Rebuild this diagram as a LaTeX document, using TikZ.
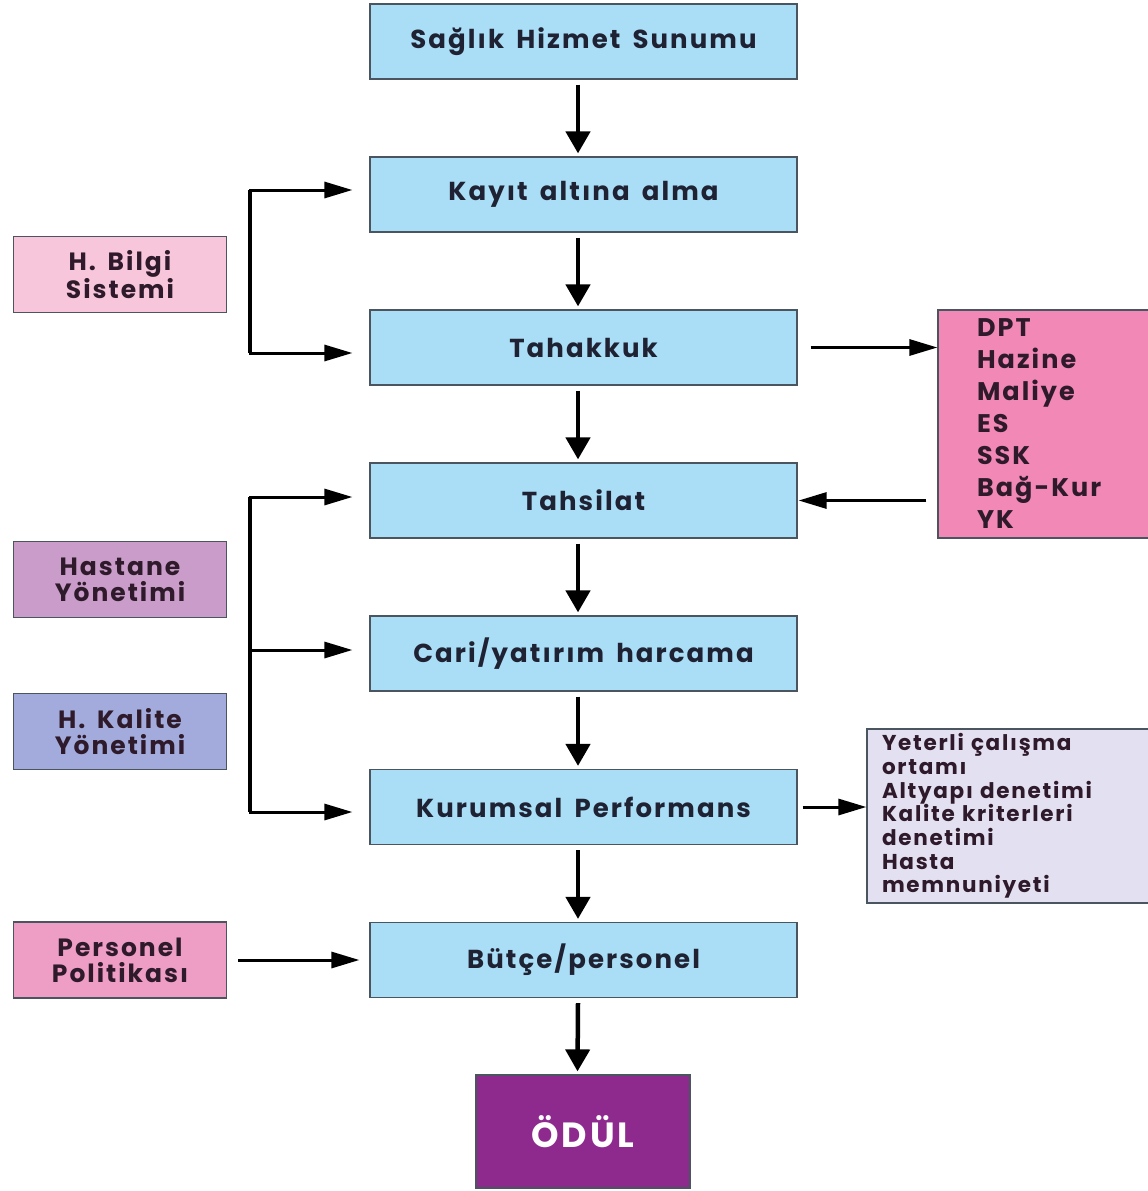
\documentclass[tikz,border=0pt]{standalone}
\usepackage{fontspec}
\setmainfont{Poppins}[LetterSpace=8, WordSpace=1.6]
\usetikzlibrary{arrows.meta,calc}
\definecolor{mainblue}{HTML}{AADDF6}
\definecolor{edge}{HTML}{4A5560}
\definecolor{txt}{HTML}{1F2233}
\definecolor{sidetxt}{HTML}{2E1A2A}
\definecolor{bilgi}{HTML}{F8C6DB}
\definecolor{hastane}{HTML}{C99CC9}
\definecolor{kalite}{HTML}{A2ABDB}
\definecolor{personel}{HTML}{EE9DC5}
\definecolor{dpt}{HTML}{F288B6}
\definecolor{yeter}{HTML}{E3E1F1}
\definecolor{odul}{HTML}{8E2A8D}
\tikzset{feedtip/.tip={Triangle[length=28pt,width=16pt]}}
\begin{document}
\begin{tikzpicture}[x=1pt,y=-1pt,
  mainbox/.style={draw=edge, line width=1.2pt, fill=mainblue, minimum width=427pt, minimum height=75pt, inner sep=0pt, text=txt, font=\fontsize{26}{28}\selectfont\bfseries},
  sidebox/.style={draw=edge, line width=1.2pt, minimum width=213pt, minimum height=76pt, inner sep=0pt, align=center, text=sidetxt, font=\fontsize{25}{26}\selectfont\bfseries},
  flow/.style={line width=4.5pt, -{Triangle[length=22pt,width=24pt]}},
  feed/.style={line width=3pt, -{feedtip}}]
\useasboundingbox (0,0) rectangle (1148,1191);
% main column
\node[mainbox] (s1) at (583.5,41.5) {Sağlık Hizmet Sunumu};
\node[mainbox] (s2) at (583.5,194.5) {Kayıt altına alma};
\node[mainbox] (s3) at (583.5,347.5) {Tahakkuk};
\node[mainbox] (s4) at (583.5,500.5) {Tahsilat};
\node[mainbox] (s5) at (583.5,653.5) {Cari/yatırım harcama};
\node[mainbox] (s6) at (583.5,807) {Kurumsal Performans};
\node[mainbox] (s7) at (583.5,960) {Bütçe/personel};
\node[draw=edge, line width=1.2pt, fill=odul, minimum width=214pt, minimum height=113pt, inner sep=0pt, text=white, font=\fontsize{35}{38}\selectfont\bfseries] (odul) at (583,1131.5) {ÖDÜL};
% side boxes
\node[sidebox, fill=bilgi] (hb) at (120,274.5) {H. Bilgi\\Sistemi};
\node[sidebox, fill=hastane] (hy) at (120,579.5) {Hastane\\Yönetimi};
\node[sidebox, fill=kalite] (hk) at (120,731.5) {H. Kalite\\Yönetimi};
\node[sidebox, fill=personel] (pp) at (120,960) {Personel\\Politikası};
\node[draw=edge, line width=1.2pt, fill=dpt, minimum width=212pt, minimum height=228pt, inner xsep=39pt, inner ysep=0pt, align=left, text width=134pt, text=sidetxt, font=\fontsize{25.5}{32}\selectfont\bfseries] (dpt) at (1044,424) {DPT\\Hazine\\Maliye\\ES\\SSK\\Bağ-Kur\\YK};
\node[draw=edge, line width=1.2pt, fill=yeter, minimum width=283pt, minimum height=174pt, inner xsep=15pt, inner ysep=0pt, align=left, text width=253pt, text=sidetxt, font=\fontsize{21.5}{23.7}\selectfont\bfseries] (yet) at (1008.5,816) {Yeterli çalışma\\ortamı\\Altyapı denetimi\\Kalite kriterleri\\denetimi\\Hasta\\memnuniyeti};
% main flow arrows
\draw[flow] ([xshift=-5.5pt,yshift=-5pt]s1.south) -- ([xshift=-5.5pt,yshift=3pt]s2.north);
\draw[flow] ([xshift=-5.5pt,yshift=-5pt]s2.south) -- ([xshift=-5.5pt,yshift=3pt]s3.north);
\draw[flow] ([xshift=-5.5pt,yshift=-5pt]s3.south) -- ([xshift=-5.5pt,yshift=3pt]s4.north);
\draw[flow] ([xshift=-5.5pt,yshift=-5pt]s4.south) -- ([xshift=-5.5pt,yshift=3pt]s5.north);
\draw[flow] ([xshift=-5.5pt,yshift=-5pt]s5.south) -- ([xshift=-5.5pt,yshift=3pt]s6.north);
\draw[flow] ([xshift=-5.5pt,yshift=-5pt]s6.south) -- ([xshift=-5.5pt,yshift=3pt]s7.north);
\draw[flow] ([xshift=-5.5pt,yshift=-5pt]s7.south) -- ([xshift=-5.5pt,yshift=3pt]odul.north);
% first bracket
\coordinate (b1t) at (250,190);
\coordinate (b1b) at (250,353);
\draw[line width=3pt, {feedtip}-{feedtip}, shorten <=17pt, shorten >=17pt] (b1b -| s3.west) -- (b1b) -- (b1t) -- (b1t -| s2.west);
\draw[line width=4.5pt] (b1t) -- (b1b);
% second bracket
\coordinate (b2t) at (250,497);
\coordinate (b2m) at (250,650);
\coordinate (b2b) at (250,812);
\draw[line width=3pt, {feedtip}-{feedtip}, shorten <=17pt, shorten >=17pt] (b2b -| s6.west) -- (b2b) -- (b2t) -- (b2t -| s4.west);
\draw[feed, shorten >=17pt] (b2m) -- (b2m -| s5.west);
\draw[line width=4.5pt] (b2t) -- (b2b);
% right arrows
\draw[feed, shorten <=13pt] (s3.east) -- (s3.east -| dpt.west);
\draw[feed, shorten <=11pt, shorten >=1pt] (s4.east -| dpt.west) -- (s4.east);
\draw[feed, shorten <=5pt] (s6.east) -- (s6.east -| yet.west);
\draw[feed, shorten <=11pt, shorten >=10pt] (pp.east) -- (s7.west);
\end{tikzpicture}
\end{document}
